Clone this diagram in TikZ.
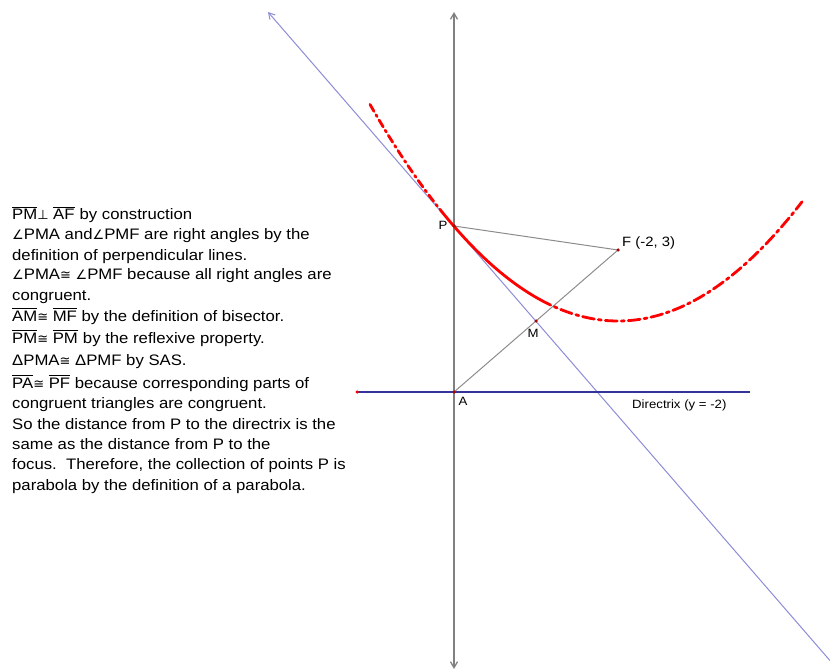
\documentclass[tikz,border=0pt]{standalone}
\usepackage{fontspec}
\setmainfont[FakeStretch=1.1]{Liberation Sans}
\newfontfamily\symf{DejaVu Sans}
\usetikzlibrary{arrows.meta}
\definecolor{axisgray}{RGB}{128,128,128}
\definecolor{bisblue}{RGB}{140,140,215}
\definecolor{dirblue}{RGB}{51,51,153}
\definecolor{seggray}{RGB}{140,140,140}
\definecolor{ptred}{RGB}{170,0,0}
\newcommand\ovl[1]{\vbox{\hrule height 0.9pt\kern1.3pt\hbox{#1}}}
\newcommand\sym[1]{{\symf\fontsize{13}{13}\selectfont #1}}
\begin{document}
\begin{tikzpicture}[x=1pt,y=-1pt,
  txt/.style={anchor=base west, inner sep=0pt, font=\fontsize{15.2}{17}\selectfont},
  lbl/.style={inner sep=0pt, font=\fontsize{12}{14}\selectfont},
  ptdot/.style={circle, fill=ptred, inner sep=0pt, minimum size=3.5pt},
  axisline/.style={draw=axisgray, line width=1.3pt},
  bisline/.style={draw=bisblue, line width=1pt},
  dirline/.style={draw=dirblue, line width=2.4pt},
  segline/.style={draw=seggray, line width=1pt},
  locus/.style={draw=red, line width=2.8pt, line cap=round}]
\useasboundingbox (0,0) rectangle (830,671);
% key points
\coordinate (P) at (454,226);
\coordinate (F) at (618,250);
\coordinate (A) at (454,392);
\coordinate (M) at (536,321);
\coordinate (ytop) at (454,12);
\coordinate (ybot) at (454,669);
\coordinate (btop) at (268,12);
\coordinate (bbot) at (830,660.6);
\coordinate (dl) at (357,392);
\coordinate (dr) at (750,392);
% lines
\draw[axisline, {Straight Barb[length=6pt,width=7pt]}-{Straight Barb[length=6pt,width=7pt]}] (ybot) -- (ytop);
\draw[bisline, -{Straight Barb[length=6pt,width=7pt]}] (bbot) -- (btop);
\draw[dirline] (dl) -- (dr);
\draw[segline] (P) -- (F);
\draw[segline] (A) -- (F);
% parabola locus
\draw[locus, dash pattern=on 8pt off 4pt on 2pt off 4pt, domain=370:442, samples=40]
  plot (\x, {321-((\x-618)/16.8523)^2});
\draw[locus, domain=442:540, samples=50]
  plot (\x, {321-((\x-618)/16.8523)^2});
\draw[locus, dash pattern=on 12pt off 4pt on 3pt off 4pt, domain=540:802, samples=80]
  plot (\x, {321-((\x-618)/16.8523)^2});
% points
\node[ptdot] (Pd) at (P) {};
\node[ptdot] (Fd) at (F) {};
\node[ptdot] (Ad) at (A) {};
\node[ptdot] (Md) at (M) {};
\node[circle, fill=red, inner sep=0pt, minimum size=3.5pt] (dld) at (dl) {};
% labels
\node[lbl] (Pl) at (443,225) {P};
\node[lbl, anchor=west, font=\fontsize{13.5}{15}\selectfont] (Fl) at (622,243) {F (-2, 3)};
\node[lbl] (Ml) at (533,333) {M};
\node[lbl] (Al) at (463,401) {A};
\node[lbl, anchor=west] (Dl) at (632,405) {Directrix (y = -2)};
% proof text
\node[txt] (t1) at (12,220) {\ovl{PM}\sym{⊥} \ovl{AF}\,\,by construction};
\node[txt] (t2) at (12,240) {\sym{∠}PMA and\sym{∠}PMF are right angles by the};
\node[txt] (t3) at (12,260) {definition of perpendicular lines.};
\node[txt] (t4) at (12,279) {\sym{∠}PMA\sym{≅} \sym{∠}PMF because all right angles are};
\node[txt] (t5) at (12,300) {congruent.};
\node[txt] (t6) at (12,321) {\ovl{AM}\sym{≅} \ovl{MF} by the definition of bisector.};
\node[txt] (t7) at (12,343) {\ovl{PM}\sym{≅} \ovl{PM}\,\,by the reflexive property.};
\node[txt] (t8) at (12,365) {ΔPMA\sym{≅} ΔPMF by SAS.};
\node[txt] (t9) at (12,388) {\ovl{PA}\sym{≅} \ovl{PF} because corresponding parts of};
\node[txt] (t10) at (12,408) {congruent triangles are congruent.};
\node[txt] (t11) at (12,429) {So the distance from P to the directrix is the};
\node[txt] (t12) at (12,449) {same as the distance from P to the};
\node[txt] (t13) at (12,469) {focus.\ \ Therefore, the collection of points P is};
\node[txt] (t14) at (12,490) {parabola by the definition of a parabola.};
\end{tikzpicture}
\end{document}
